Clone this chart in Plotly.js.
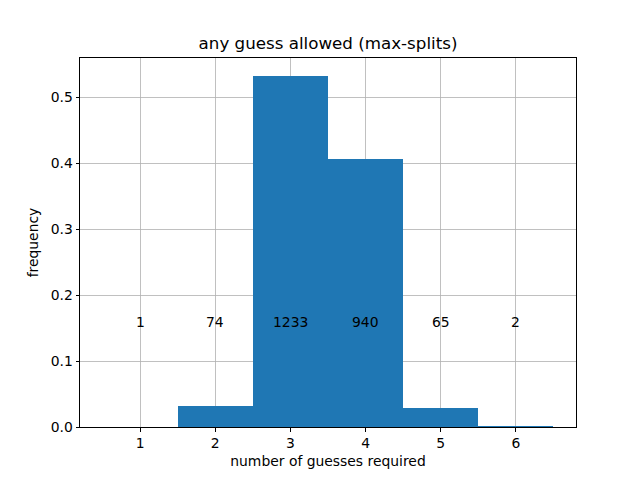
<!DOCTYPE html>
<html>
<head>
<meta charset="utf-8">
<script src="https://cdn.plot.ly/plotly-3.0.1.min.js"></script>
<style>html,body{margin:0;padding:0;background:#fff;}#chart{width:640px;height:480px;}</style>
</head>
<body>
<div id="chart"></div>
<script>
const guesses = [1, 2, 3, 4, 5, 6];
const counts = [1, 74, 1233, 940, 65, 2];
const frequency = [0.000432, 0.03197, 0.5326, 0.4060, 0.02808, 0.000864];
const labelY = 0.15;

const font = {family: 'DejaVu Sans, sans-serif', size: 13.9, color: '#000'};

const trace = {
  type: 'bar',
  x: guesses,
  y: frequency,
  width: 1,
  marker: {color: '#1f77b4', line: {width: 0}},
  hoverinfo: 'skip'
};

const annotations = guesses.map((g, i) => ({
  x: g, y: labelY, xref: 'x', yref: 'y',
  text: String(counts[i]),
  showarrow: false,
  yanchor: 'bottom',
  yshift: -4,
  font: font
}));

const axisCommon = {
  showline: true, mirror: true, linecolor: '#000', linewidth: 1,
  ticks: 'outside', ticklen: 3.5, tickwidth: 1, tickcolor: '#000',
  showgrid: true, gridcolor: '#b0b0b0', gridwidth: 0.8,
  zeroline: false, tickfont: font, layer: 'above traces'
};

const layout = {
  width: 640, height: 480,
  margin: {l: 80, r: 64, t: 58, b: 53},
  paper_bgcolor: '#fff', plot_bgcolor: '#fff',
  font: font,
  bargap: 0,
  showlegend: false,
  title: {text: 'any guess allowed (max-splits)', font: {family: 'DejaVu Sans, sans-serif', size: 16.7, color: '#000'}, x: 0.5, xanchor: 'center', y: 0.91, yanchor: 'middle', xref: 'paper'},
  xaxis: Object.assign({}, axisCommon, {
    range: [0.2, 6.8], tickvals: guesses, ticktext: guesses.map(String),
    title: {text: 'number of guesses required', font: font, standoff: 6}
  }),
  yaxis: Object.assign({}, axisCommon, {
    range: [0, 0.5592], tickvals: [0, 0.1, 0.2, 0.3, 0.4, 0.5], ticktext: ['0.0', '0.1', '0.2', '0.3', '0.4', '0.5'],
    title: {text: 'frequency', font: font, standoff: 8}
  }),
  annotations: annotations
};

Plotly.newPlot('chart', [trace], layout, {displayModeBar: false, staticPlot: true});
</script>
</body>
</html>
